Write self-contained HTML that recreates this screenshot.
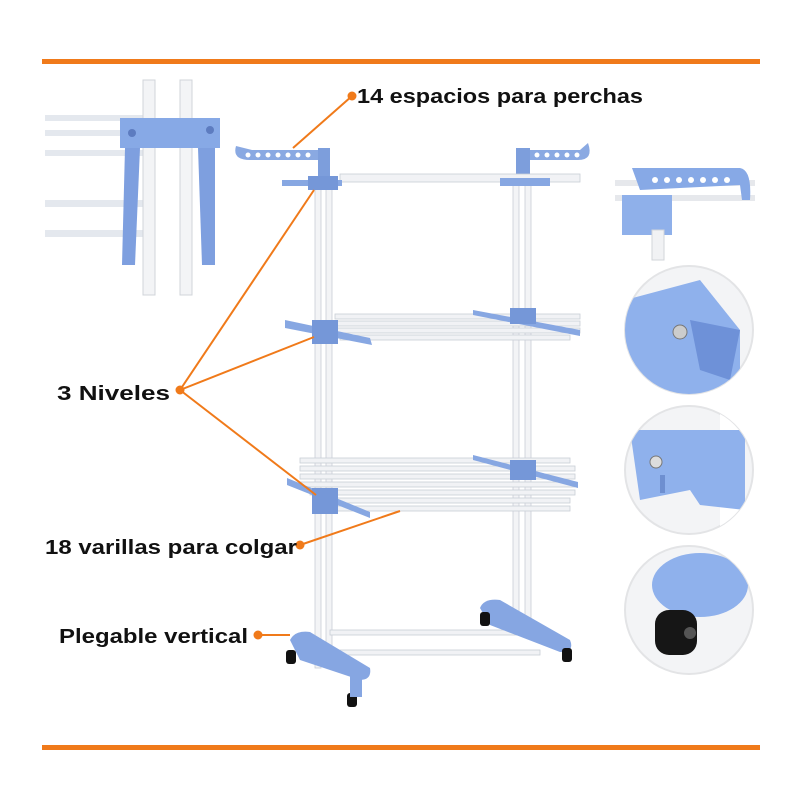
<!DOCTYPE html>
<html><head><meta charset="utf-8"><style>
html,body{margin:0;padding:0;background:#fff;}
svg{display:block}
text{font-family:"Liberation Sans",sans-serif;font-weight:bold;fill:#111;}
</style></head><body>
<svg width="800" height="800" viewBox="0 0 800 800" xmlns="http://www.w3.org/2000/svg">
<defs>
<clipPath id="c1"><circle cx="689" cy="330" r="64"/></clipPath>
<clipPath id="c2"><circle cx="689" cy="470" r="64"/></clipPath>
<clipPath id="c3"><circle cx="689" cy="610" r="64"/></clipPath>
</defs>
<rect width="800" height="800" fill="#fff"/>
<rect x="42" y="59" width="718" height="5" fill="#f07a1a"/>
<rect x="42" y="745" width="718" height="5" fill="#f07a1a"/>

<g>
<rect x="45" y="115" width="100" height="6" fill="#e4e8ee"/>
<rect x="45" y="130" width="100" height="6" fill="#e4e8ee"/>
<rect x="45" y="150" width="100" height="6" fill="#e4e8ee"/>
<rect x="45" y="200" width="100" height="7" fill="#e4e8ee"/>
<rect x="45" y="230" width="100" height="7" fill="#e4e8ee"/>
<rect x="143" y="80" width="12" height="215" fill="#f3f4f6" stroke="#d0d4da"/>
<rect x="180" y="80" width="12" height="215" fill="#f3f4f6" stroke="#d0d4da"/>
<rect x="120" y="118" width="100" height="30" fill="#87a9e6"/>
<path d="M125 148 L140 148 L135 265 L122 265 Z" fill="#7e9fdf"/>
<path d="M198 148 L215 148 L215 265 L202 265 Z" fill="#7e9fdf"/>
<circle cx="132" cy="133" r="4" fill="#5d7cc0"/><circle cx="210" cy="130" r="4" fill="#5d7cc0"/>
</g>

<g>
<rect x="615" y="180" width="140" height="6" fill="#e6e8ec"/>
<rect x="615" y="195" width="140" height="6" fill="#e6e8ec"/>
<path d="M632 168 L740 168 Q752 170 750 200 L742 200 L740 185 L640 190 Z" fill="#87a9e6"/>
<rect x="622" y="195" width="50" height="40" fill="#8fb0ea"/>
<rect x="652" y="230" width="12" height="30" fill="#f1f2f4" stroke="#d2d5da"/>
<g fill="#fff"><circle cx="655" cy="180" r="3"/><circle cx="667" cy="180" r="3"/><circle cx="679" cy="180" r="3"/><circle cx="691" cy="180" r="3"/><circle cx="703" cy="180" r="3"/><circle cx="715" cy="180" r="3"/><circle cx="727" cy="180" r="3"/></g>
</g>

<circle cx="689" cy="330" r="64" fill="#f3f4f6" stroke="#e3e4e6" stroke-width="2"/>
<g clip-path="url(#c1)">
<path d="M625 300 L700 280 L740 330 L740 395 L625 395 Z" fill="#8fb1ec"/>
<path d="M690 320 L740 330 L730 380 L700 370 Z" fill="#6e91d8"/>
<circle cx="680" cy="332" r="7" fill="#ccc" stroke="#777"/>
</g>
<circle cx="689" cy="470" r="64" fill="#f3f4f6" stroke="#e3e4e6" stroke-width="2"/>
<g clip-path="url(#c2)">
<rect x="720" y="405" width="20" height="130" fill="#fff"/>
<path d="M630 430 L745 430 L745 510 L700 505 L690 490 L640 500 Z" fill="#8fb1ec"/>
<circle cx="656" cy="462" r="6" fill="#ddd" stroke="#777"/>
<rect x="660" y="475" width="5" height="18" fill="#6e8fd0"/>
</g>
<circle cx="689" cy="610" r="64" fill="#f3f4f6" stroke="#e3e4e6" stroke-width="2"/>
<g clip-path="url(#c3)">
<ellipse cx="700" cy="585" rx="48" ry="32" fill="#8fb1ec"/>
<rect x="655" y="610" width="42" height="45" rx="14" fill="#161616"/>
<circle cx="690" cy="633" r="6" fill="#555"/>
</g>

<g>
<rect x="315" y="178" width="6" height="490" fill="#f3f4f6" stroke="#c9ced6" stroke-width="0.8"/>
<rect x="326" y="178" width="6" height="490" fill="#f3f4f6" stroke="#c9ced6" stroke-width="0.8"/>
<rect x="513" y="182" width="6" height="440" fill="#f3f4f6" stroke="#c9ced6" stroke-width="0.8"/>
<rect x="525" y="182" width="6" height="440" fill="#f3f4f6" stroke="#c9ced6" stroke-width="0.8"/>
<path d="M236 146 Q232 160 250 160 L318 160 L318 150 L252 150 Z" fill="#8aa9e2"/>
<rect x="318" y="148" width="12" height="30" fill="#7d9edc"/>
<path d="M588 143 Q594 160 578 160 L518 160 L518 150 L580 150 Z" fill="#8aa9e2"/>
<rect x="516" y="148" width="14" height="30" fill="#7d9edc"/>
<g fill="#fff"><circle cx="248" cy="155" r="2.5"/><circle cx="258" cy="155" r="2.5"/><circle cx="268" cy="155" r="2.5"/><circle cx="278" cy="155" r="2.5"/><circle cx="288" cy="155" r="2.5"/><circle cx="298" cy="155" r="2.5"/><circle cx="308" cy="155" r="2.5"/>
<circle cx="537" cy="155" r="2.5"/><circle cx="547" cy="155" r="2.5"/><circle cx="557" cy="155" r="2.5"/><circle cx="567" cy="155" r="2.5"/><circle cx="577" cy="155" r="2.5"/></g>
<rect x="340" y="174" width="240" height="8" fill="#f1f2f5" stroke="#c9ced6" stroke-width="0.8"/>
<rect x="282" y="180" width="60" height="6" fill="#87a7e2"/>
<rect x="308" y="176" width="30" height="14" fill="#7597d8"/>
<rect x="500" y="178" width="50" height="8" fill="#87a7e2"/>
<g fill="#f1f2f5" stroke="#c9ced6" stroke-width="0.8">
<rect x="335" y="314" width="245" height="5"/><rect x="335" y="321" width="245" height="5"/><rect x="335" y="328" width="245" height="5"/><rect x="340" y="335" width="230" height="5"/></g>
<path d="M285 320 L370 338 L372 345 L285 328 Z" fill="#87a7e2"/>
<rect x="312" y="320" width="26" height="24" fill="#7597d8"/>
<path d="M473 310 L580 330 L580 336 L473 315 Z" fill="#87a7e2"/>
<rect x="510" y="308" width="26" height="16" fill="#7597d8"/>
<g fill="#f1f2f5" stroke="#c9ced6" stroke-width="0.8">
<rect x="300" y="458" width="270" height="5"/><rect x="300" y="466" width="275" height="5"/><rect x="300" y="474" width="275" height="5"/><rect x="300" y="482" width="275" height="5"/><rect x="310" y="490" width="265" height="5"/><rect x="320" y="498" width="250" height="5"/><rect x="330" y="506" width="240" height="5"/></g>
<path d="M287 478 L370 512 L370 518 L287 485 Z" fill="#87a7e2"/>
<rect x="312" y="488" width="26" height="26" fill="#7597d8"/>
<path d="M473 455 L578 482 L578 488 L473 460 Z" fill="#87a7e2"/>
<rect x="510" y="460" width="26" height="20" fill="#7597d8"/>
<rect x="330" y="630" width="200" height="5" fill="#f1f2f5" stroke="#c9ced6" stroke-width="0.8"/>
<rect x="340" y="650" width="200" height="5" fill="#f1f2f5" stroke="#c9ced6" stroke-width="0.8"/>
<path d="M290 640 Q295 630 310 632 L370 668 Q372 680 360 680 L300 660 Z" fill="#86a6e2"/>
<path d="M480 608 Q484 598 500 600 L570 640 Q575 652 560 652 L490 625 Z" fill="#86a6e2"/>
<rect x="286" y="650" width="10" height="14" rx="3" fill="#111"/>
<rect x="347" y="693" width="10" height="14" rx="3" fill="#111"/>
<rect x="350" y="675" width="12" height="22" fill="#86a6e2"/>
<rect x="480" y="612" width="10" height="14" rx="3" fill="#111"/>
<rect x="562" y="648" width="10" height="14" rx="3" fill="#111"/>
</g>

<g stroke="#f07a1a" stroke-width="2" fill="none">
<line x1="352" y1="96" x2="293" y2="148"/>
<line x1="180" y1="390" x2="314" y2="190"/>
<line x1="180" y1="390" x2="314" y2="337"/>
<line x1="180" y1="390" x2="316" y2="495"/>
<line x1="300" y1="545" x2="400" y2="511"/>
<line x1="258" y1="635" x2="290" y2="635"/>
</g>
<g fill="#f07a1a">
<circle cx="352" cy="96" r="4.5"/><circle cx="180" cy="390" r="4.5"/><circle cx="300" cy="545" r="4.5"/><circle cx="258" cy="635" r="4.5"/>
</g>
<text x="357" y="103" font-size="20" textLength="286" lengthAdjust="spacingAndGlyphs">14 espacios para perchas</text>
<text x="57" y="400" font-size="20" textLength="113" lengthAdjust="spacingAndGlyphs">3 Niveles</text>
<text x="45" y="554" font-size="20" textLength="252" lengthAdjust="spacingAndGlyphs">18 varillas para colgar</text>
<text x="59" y="643" font-size="20" textLength="189" lengthAdjust="spacingAndGlyphs">Plegable vertical</text>
</svg>
</body></html>
